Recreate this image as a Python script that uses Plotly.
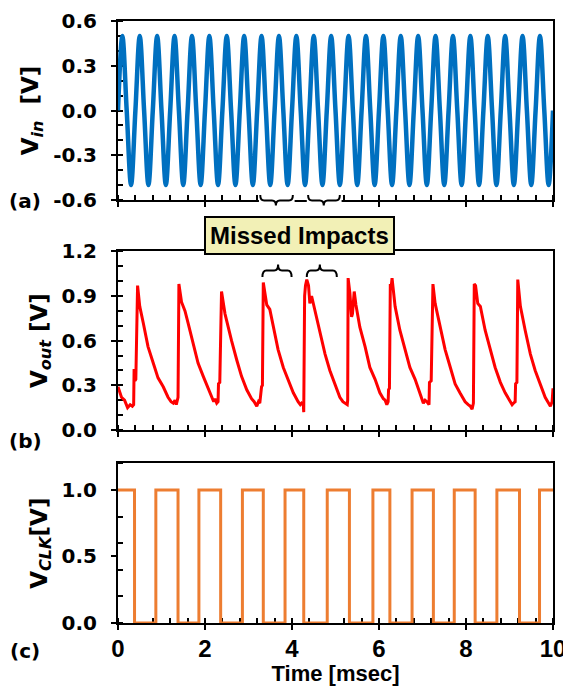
import plotly.graph_objects as go

# ---------------- data ----------------
vin_t = [0.0, 0.1, 0.2, 0.3, 0.4, 0.5, 0.6, 0.7, 0.8, 0.9,
         1.0, 1.1, 1.2, 1.3, 1.4, 1.5, 1.6, 1.7, 1.8, 1.9,
         2.0, 2.1, 2.2, 2.3, 2.4, 2.5, 2.6, 2.7, 2.8, 2.9,
         3.0, 3.1, 3.2, 3.3, 3.4, 3.5, 3.6, 3.7, 3.8, 3.9,
         4.0, 4.1, 4.2, 4.3, 4.4, 4.5, 4.6, 4.7, 4.8, 4.9,
         5.0, 5.1, 5.2, 5.3, 5.4, 5.5, 5.6, 5.7, 5.8, 5.9,
         6.0, 6.1, 6.2, 6.3, 6.4, 6.5, 6.6, 6.7, 6.8, 6.9,
         7.0, 7.1, 7.2, 7.3, 7.4, 7.5, 7.6, 7.7, 7.8, 7.9,
         8.0, 8.1, 8.2, 8.3, 8.4, 8.5, 8.6, 8.7, 8.8, 8.9,
         9.0, 9.1, 9.2, 9.3, 9.4, 9.5, 9.6, 9.7, 9.8, 9.9, 10.0]
vin_v = [0, 0.5, 0, -0.5, 0, 0.5, 0, -0.5, 0, 0.5,
         0, -0.5, 0, 0.5, 0, -0.5, 0, 0.5, 0, -0.5,
         0, 0.5, 0, -0.5, 0, 0.5, 0, -0.5, 0, 0.5,
         0, -0.5, 0, 0.5, 0, -0.5, 0, 0.5, 0, -0.5,
         0, 0.5, 0, -0.5, 0, 0.5, 0, -0.5, 0, 0.5,
         0, -0.5, 0, 0.5, 0, -0.5, 0, 0.5, 0, -0.5,
         0, 0.5, 0, -0.5, 0, 0.5, 0, -0.5, 0, 0.5,
         0, -0.5, 0, 0.5, 0, -0.5, 0, 0.5, 0, -0.5,
         0, 0.5, 0, -0.5, 0, 0.5, 0, -0.5, 0, 0.5,
         0, -0.5, 0, 0.5, 0, -0.5, 0, 0.5, 0, -0.5, 0]

vout_t = [0.00, 0.08, 0.15, 0.22, 0.28, 0.33, 0.36, 0.37, 0.39, 0.41, 0.45,
          0.50, 0.58, 0.69, 0.81, 0.92, 1.04, 1.15, 1.22, 1.27, 1.31, 1.34, 1.38, 1.40,
          1.46, 1.54, 1.61, 1.73, 1.84, 1.96, 2.07, 2.15, 2.20, 2.23, 2.27, 2.30, 2.31, 2.34, 2.38,
          2.46, 2.53, 2.61, 2.73, 2.84, 2.96, 3.07, 3.13, 3.19, 3.23, 3.26, 3.30, 3.32, 3.34,
          3.42, 3.49, 3.57, 3.68, 3.80, 3.91, 4.03, 4.14, 4.19, 4.22, 4.26, 4.27, 4.29, 4.31, 4.34,
          4.38, 4.41, 4.45, 4.53, 4.64, 4.76, 4.87, 4.99, 5.10, 5.17, 5.22, 5.27, 5.28, 5.29,
          5.33, 5.37, 5.39, 5.43, 5.47, 5.56, 5.68, 5.79, 5.91, 6.02, 6.10, 6.14, 6.18, 6.21,
          6.22, 6.24, 6.26, 6.28, 6.30,
          6.33, 6.37, 6.48, 6.60, 6.71, 6.83, 6.95, 7.02, 7.06, 7.10, 7.15, 7.16, 7.20, 7.24,
          7.29, 7.40, 7.52, 7.64, 7.75, 7.86, 7.98, 8.05, 8.10, 8.14, 8.17, 8.19,
          8.22, 8.27, 8.33, 8.44, 8.56, 8.67, 8.79, 8.90, 9.02, 9.06, 9.09, 9.13, 9.14, 9.17, 9.19,
          9.25, 9.36, 9.48, 9.59, 9.71, 9.82, 9.90, 9.94, 9.98, 10.00]
vout_v = [0.29, 0.22, 0.20, 0.15, 0.17, 0.16, 0.17, 0.41, 0.33, 0.34, 0.97,
          0.83, 0.72, 0.56, 0.45, 0.35, 0.29, 0.22, 0.19, 0.18, 0.20, 0.17, 0.22, 0.98,
          0.86, 0.80, 0.72, 0.58, 0.45, 0.36, 0.28, 0.22, 0.19, 0.21, 0.18, 0.19, 0.31, 0.32, 0.93,
          0.78, 0.69, 0.60, 0.47, 0.36, 0.27, 0.21, 0.19, 0.16, 0.19, 0.18, 0.29, 0.30, 0.99,
          0.84, 0.81, 0.69, 0.54, 0.42, 0.34, 0.25, 0.19, 0.17, 0.18, 0.17, 0.12, 0.90, 0.97, 1.01,
          0.97, 0.85, 0.90, 0.80, 0.65, 0.51, 0.40, 0.31, 0.22, 0.19, 0.18, 0.17, 0.20, 1.02,
          0.92, 0.76, 0.78, 0.93, 0.84, 0.69, 0.56, 0.42, 0.34, 0.25, 0.21, 0.20, 0.17, 0.19,
          0.27, 0.28, 0.98, 0.96, 1.02,
          0.94, 0.83, 0.67, 0.54, 0.42, 0.34, 0.23, 0.18, 0.20, 0.19, 0.17, 0.32, 0.33, 0.98,
          0.85, 0.69, 0.54, 0.42, 0.31, 0.25, 0.19, 0.17, 0.16, 0.14, 0.18, 0.98,
          0.97, 0.85, 0.83, 0.67, 0.54, 0.42, 0.32, 0.25, 0.19, 0.17, 0.18, 0.19, 0.31, 0.32, 1.01,
          0.83, 0.67, 0.51, 0.40, 0.31, 0.22, 0.18, 0.16, 0.19, 0.28]

clk_t = [0.0, 0.38, 0.87, 1.38, 1.86, 2.36, 2.86, 3.34, 3.84, 4.27, 4.81,
         5.32, 5.86, 6.25, 6.76, 7.25, 7.73, 8.21, 8.71, 9.23, 9.69, 10.0]
clk_v = [1, 0, 1, 0, 1, 0, 1, 0, 1, 0, 1,
         0, 1, 0, 1, 0, 1, 0, 1, 0, 1, 1]

x_ticks = [0, 2, 4, 6, 8, 10]
x_ticktext = ["0", "2", "4", "6", "8", "10"]
vin_ticks = [-0.6, -0.3, 0.0, 0.3, 0.6]
vin_ticktext = ["-0.6", "-0.3", "0.0", "0.3", "0.6"]
vout_ticks = [0.0, 0.3, 0.6, 0.9, 1.2]
vout_ticktext = ["0.0", "0.3", "0.6", "0.9", "1.2"]
clk_ticks = [0.0, 0.5, 1.0]
clk_ticktext = ["0.0", "0.5", "1.0"]

# braces (msec spans and tip position)
braces_a = [(3.27, 3.63, 4.02), (4.37, 4.73, 5.10)]
braces_b = [(3.32, 3.68, 3.99), (4.34, 4.64, 5.03)]

# ---------------- styling ----------------
WIDE = "DejaVu Sans, Verdana, sans-serif"
ARIAL = "Liberation Sans, Arial, Helvetica, sans-serif"
BLUE, RED, ORANGE = "#0070C0", "#FF0000", "#ED7D31"

OFF = 8                      # default page margin of the html body
W, H = 571 - OFF, 686 - OFF  # figure size so the page fills the window
L, R = 118 - OFF, 18
TOP = 21 - OFF
BOT = H - (623 - OFF)
PLOT_H = H - TOP - BOT
PLOT_W = W - L - R


def py(p):
    """window pixel row -> paper y"""
    return (H - BOT - (p - OFF)) / PLOT_H


def px(p):
    """window pixel column -> paper x"""
    return (p - OFF - L) / PLOT_W


fig = go.Figure()
fig.add_trace(go.Scatter(x=vin_t, y=vin_v, mode="lines", xaxis="x", yaxis="y",
                         line=dict(color=BLUE, width=4.5, shape="spline", smoothing=1.0),
                         showlegend=False, hoverinfo="skip"))
fig.add_trace(go.Scatter(x=vout_t, y=vout_v, mode="lines", xaxis="x2", yaxis="y2",
                         line=dict(color=RED, width=3), showlegend=False, hoverinfo="skip"))
fig.add_trace(go.Scatter(x=clk_t, y=clk_v, mode="lines", xaxis="x3", yaxis="y3",
                         line=dict(color=ORANGE, width=3, shape="hv"),
                         showlegend=False, hoverinfo="skip"))

dom_a = [py(200), 1.0]
dom_b = [py(430), py(251.3)]
dom_c = [0.0, py(463.3)]


def xaxis(anchor, labels, title=None):
    d = dict(anchor=anchor, domain=[0, 1], range=[0, 10],
             tickmode="array", tickvals=x_ticks, ticktext=x_ticktext,
             ticks="outside", ticklen=5, tickwidth=2, tickcolor="black",
             showline=True, linewidth=2, linecolor="black", mirror=True,
             showgrid=False, zeroline=False, layer="below traces",
             minor=dict(tick0=0, dtick=0.4, ticks="inside", ticklen=5, tickwidth=2,
                        tickcolor="black", showgrid=False),
             showticklabels=labels,
             tickfont=dict(family=ARIAL, size=24, color="black", weight="bold"),
             ticklabelstandoff=-2)
    if title:
        d["title"] = dict(text=title, standoff=3,
                          font=dict(family=ARIAL, size=22, color="black", weight="bold"))
    return d


def yaxis(anchor, domain, rng, tv, tt, minor_dtick, title):
    return dict(anchor=anchor, domain=domain, range=rng,
                tickmode="array", tickvals=tv, ticktext=tt,
                ticks="outside", ticklen=5, tickwidth=2, tickcolor="black",
                showline=True, linewidth=2, linecolor="black", mirror=True,
                showgrid=False, zeroline=False, layer="below traces",
                minor=dict(tick0=0, dtick=minor_dtick, ticks="inside", ticklen=5,
                           tickwidth=2, tickcolor="black", showgrid=False),
                tickfont=dict(family=WIDE, size=20, color="black", weight="bold"),
                ticklabelstandoff=10,
                title=dict(text=title, standoff=8,
                           font=dict(family=WIDE, size=23, color="black", weight="bold")))


def x_over(over, anchor):
    return dict(overlaying=over, anchor=anchor, range=[0, 10], tickmode="array",
                tickvals=x_ticks, ticks="inside", ticklen=5, tickwidth=2,
                tickcolor="black", showline=False, showticklabels=False,
                showgrid=False, zeroline=False, layer="below traces")


def y_over(over, anchor, rng, tv):
    return dict(overlaying=over, anchor=anchor, range=rng, tickmode="array",
                tickvals=tv, ticks="inside", ticklen=5, tickwidth=2,
                tickcolor="black", showline=False, showticklabels=False,
                showgrid=False, zeroline=False, layer="below traces", side="left")


fig.update_layout(
    width=W, height=H,
    margin=dict(l=L, r=R, t=TOP, b=BOT, autoexpand=False),
    paper_bgcolor="white", plot_bgcolor="white",
    xaxis=xaxis("y", False),
    xaxis2=xaxis("y2", False),
    xaxis3=xaxis("y3", True, "Time [msec]"),
    yaxis=yaxis("x", dom_a, [-0.6, 0.6], vin_ticks, vin_ticktext, 0.1,
                "<b>V<sub><i>in</i></sub>  [V]</b>"),
    yaxis2=yaxis("x2", dom_b, [0, 1.2], vout_ticks, vout_ticktext, 0.1,
                 "<b>V<sub><i>out</i></sub> [V]</b>"),
    yaxis3=yaxis("x3", dom_c, [0, 1.2], clk_ticks, clk_ticktext, 0.2,
                 "<b>V<sub><i>CLK</i></sub>[V]</b>"),
    xaxis4=x_over("x", "y"),
    xaxis5=x_over("x2", "y2"),
    xaxis6=x_over("x3", "y3"),
    yaxis4=y_over("y", "x", [-0.6, 0.6], vin_ticks),
    yaxis5=y_over("y2", "x2", [0, 1.2], vout_ticks),
    yaxis6=y_over("y3", "x3", [0, 1.2], clk_ticks),
)


def brace_path(x0, xm, x1, y_end, y_bar, y_tip, d=0.09):
    return (f"M {x0},{y_end} Q {x0},{y_bar} {x0 + d},{y_bar} "
            f"L {xm - d},{y_bar} Q {xm},{y_bar} {xm},{y_tip} "
            f"Q {xm},{y_bar} {xm + d},{y_bar} "
            f"L {x1 - d},{y_bar} Q {x1},{y_bar} {x1},{y_end}")


shapes = []
for x0, xm, x1 in braces_a:
    shapes.append(dict(type="rect", xref="x", yref="paper", x0=x0 - 0.03, x1=x1 + 0.04,
                       y0=py(207), y1=py(193), fillcolor="white", line=dict(width=0),
                       layer="above"))
for x0, xm, x1 in braces_a:
    shapes.append(dict(type="path", xref="x", yref="paper",
                       path=brace_path(x0, xm, x1, py(195), py(200.5), py(205.5)),
                       line=dict(color="black", width=2), layer="above"))
for x0, xm, x1 in braces_b:
    shapes.append(dict(type="path", xref="x2", yref="paper",
                       path=brace_path(x0, xm, x1, py(277), py(270.5), py(264.5)),
                       line=dict(color="black", width=2), layer="above"))
fig.update_layout(shapes=shapes)

ann = []
for lab, yy in [("(a)", 201), ("(b)", 441), ("(c)", 651)]:
    ann.append(dict(text=f"<b>{lab}</b>", xref="paper", yref="paper",
                    x=px(25), y=py(yy), showarrow=False,
                    xanchor="center", yanchor="middle",
                    font=dict(family=WIDE, size=20, color="black")))
ann.append(dict(text="<b>Missed Impacts</b>", xref="paper", yref="paper",
                x=px(299.5), y=py(236), showarrow=False,
                xanchor="center", yanchor="middle",
                bgcolor="#F2F0B6", bordercolor="black", borderwidth=2, borderpad=4,
                font=dict(family=ARIAL, size=24, color="black")))
fig.update_layout(annotations=ann)

fig.write_html("out.html")
